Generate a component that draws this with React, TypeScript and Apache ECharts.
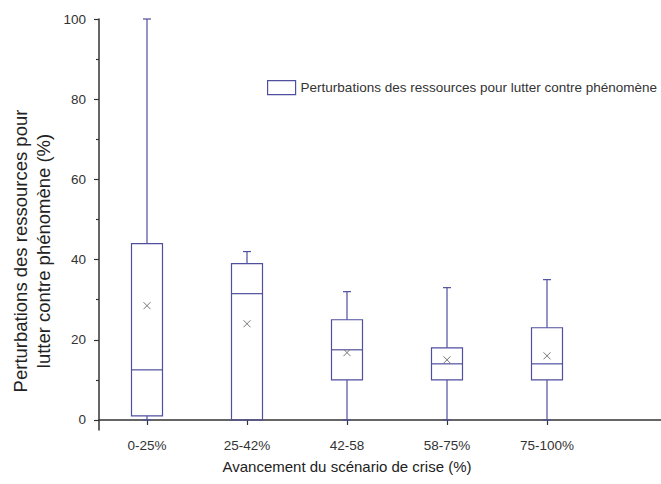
import React, { useEffect, useRef } from "react";
import * as echarts from "echarts";

const categories = ["0-25%", "25-42%", "42-58", "58-75%", "75-100%"];
const whiskerLow = [0, 0, 0, 0, 0];
const q1 = [1, 0, 10, 10, 10];
const median = [12.5, 31.5, 17.5, 14, 14];
const q3 = [44, 39, 25, 18, 23];
const whiskerHigh = [100, 42, 32, 33, 35];
const mean = [28.5, 24, 16.8, 15, 16];
const yTicks = [0, 20, 40, 60, 80, 100];
const yMinorTicks = [10, 30, 50, 70, 90];

const seriesName = "Perturbations des ressources pour lutter contre phénomène";
const boxColor = "#4f4f9e";
const axisColor = "#333";
const font = "Liberation Sans, Arial, sans-serif";

export default function App() {
  const ref = useRef<HTMLDivElement>(null);
  useEffect(() => {
    if (!ref.current) return;
    const chart = echarts.init(ref.current, null, { renderer: "svg" });
    const data = categories.map((_, i) => [
      i + 1,
      whiskerLow[i],
      q1[i],
      median[i],
      q3[i],
      whiskerHigh[i],
      mean[i],
    ]);
    const xMin = 0.52;
    const xMax = 6.14;
    chart.setOption({
      animation: false,
      backgroundColor: "#fff",
      textStyle: { fontFamily: font },
      grid: { left: 99, right: 0, top: 19, bottom: 54 },
      legend: {
        left: 267,
        top: 80,
        padding: 0,
        itemWidth: 28,
        itemHeight: 14,
        selectedMode: false,
        textStyle: { fontSize: 13.5, color: "#333", fontFamily: font },
        data: [
          {
            name: seriesName,
            icon: "rect",
            itemStyle: { color: "#fff", borderColor: boxColor, borderWidth: 1.2 },
          },
        ],
      },
      xAxis: {
        type: "value",
        min: xMin,
        max: xMax,
        splitLine: { show: false },
        axisLine: { show: true, lineStyle: { color: axisColor, width: 1.5 } },
        axisTick: {
          show: true,
          length: 5,
          customValues: categories.map((_, i) => i + 1),
          lineStyle: { color: axisColor, width: 1.2 },
        },
        axisLabel: {
          customValues: categories.map((_, i) => i + 1),
          formatter: (v: number) => categories[Math.round(v) - 1] ?? "",
          fontSize: 13.5,
          color: "#333",
          margin: 8,
        },
      },
      yAxis: [
        {
          type: "value",
          min: -2.5,
          max: 100,
          splitLine: { show: false },
          axisLine: { show: true, lineStyle: { color: axisColor, width: 1.5 } },
          axisTick: {
            show: true,
            length: 5,
            customValues: yTicks,
            lineStyle: { color: axisColor, width: 1.2 },
          },
          axisLabel: {
            customValues: yTicks,
            fontSize: 13.5,
            color: "#333",
            margin: 13,
          },
        },
        {
          type: "value",
          min: -2.5,
          max: 100,
          position: "left",
          splitLine: { show: false },
          axisLine: { show: false },
          axisTick: {
            show: true,
            length: 3,
            customValues: yMinorTicks,
            lineStyle: { color: axisColor, width: 1.2 },
          },
          axisLabel: { show: false },
        },
      ],
      graphic: [
        {
          type: "text",
          x: 347,
          y: 466,
          style: {
            text: "Avancement du scénario de crise (%)",
            fontSize: 15,
            fill: "#222",
            align: "center",
            verticalAlign: "middle",
            fontFamily: font,
          },
        },
        {
          type: "text",
          x: 32,
          y: 251,
          rotation: Math.PI / 2,
          style: {
            text: "Perturbations des ressources pour\nlutter contre phénomène (%)",
            fontSize: 18.5,
            lineHeight: 23,
            fill: "#222",
            align: "center",
            verticalAlign: "middle",
            fontFamily: font,
          },
        },
      ],
      series: [
        {
          name: seriesName,
          type: "custom",
          xAxisIndex: 0,
          yAxisIndex: 0,
          encode: { x: 0, y: [1, 2, 3, 4, 5, 6] },
          itemStyle: { color: boxColor },
          data,
          renderItem: (params: any, api: any) => {
            const x = api.value(0);
            const lo = api.coord([x, api.value(1)]);
            const b = api.coord([x, api.value(2)]);
            const m = api.coord([x, api.value(3)]);
            const t = api.coord([x, api.value(4)]);
            const hi = api.coord([x, api.value(5)]);
            const mn = api.coord([x, api.value(6)]);
            const cx = lo[0];
            const half = api.size([1, 0])[0] * 0.155;
            const cap = 4;
            const s = { stroke: boxColor, lineWidth: 1.2, fill: "none" };
            const children: any[] = [];
            if (hi[1] < t[1] - 0.5) {
              children.push({ type: "line", shape: { x1: cx, y1: t[1], x2: cx, y2: hi[1] }, style: s });
              children.push({ type: "line", shape: { x1: cx - cap, y1: hi[1], x2: cx + cap, y2: hi[1] }, style: s });
            }
            if (lo[1] > b[1] + 0.5) {
              children.push({ type: "line", shape: { x1: cx, y1: b[1], x2: cx, y2: lo[1] }, style: s });
              children.push({ type: "line", shape: { x1: cx - cap, y1: lo[1], x2: cx + cap, y2: lo[1] }, style: s });
            }
            children.push({
              type: "rect",
              shape: { x: cx - half, y: t[1], width: half * 2, height: b[1] - t[1] },
              style: { stroke: boxColor, lineWidth: 1.2, fill: "rgba(0,0,0,0)" },
            });
            children.push({ type: "line", shape: { x1: cx - half, y1: m[1], x2: cx + half, y2: m[1] }, style: s });
            const k = 3.5;
            const ms = { stroke: "#777", lineWidth: 1, fill: "none" };
            children.push({ type: "line", shape: { x1: mn[0] - k, y1: mn[1] - k, x2: mn[0] + k, y2: mn[1] + k }, style: ms });
            children.push({ type: "line", shape: { x1: mn[0] - k, y1: mn[1] + k, x2: mn[0] + k, y2: mn[1] - k }, style: ms });
            return { type: "group", children };
          },
        },
      ],
    });
    return () => chart.dispose();
  }, []);
  return (
    <div
      ref={ref}
      style={{ position: "absolute", left: 0, top: 0, width: 661, height: 484 }}
    />
  );
}
